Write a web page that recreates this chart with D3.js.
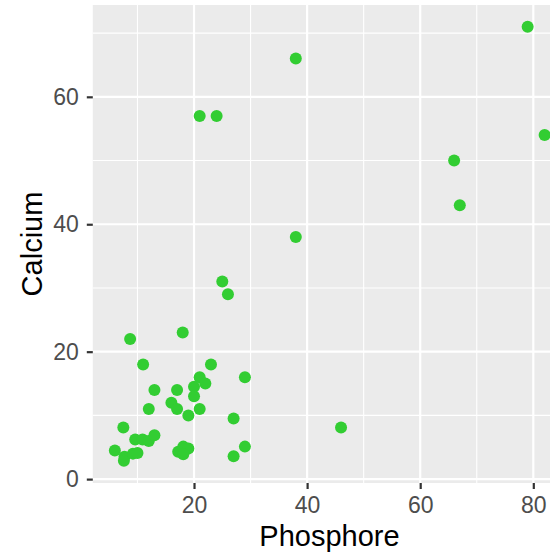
<!DOCTYPE html>
<html>
<head>
<meta charset="utf-8">
<script src="https://cdn.jsdelivr.net/npm/d3@7"></script>
<style>
  html, body { margin: 0; padding: 0; background: #fff; }
  svg { display: block; font-family: "Liberation Sans", Arial, sans-serif; }
</style>
</head>
<body>
<svg id="chart" width="550" height="554"></svg>
<script>
// Data (Phosphore vs Calcium)
const phosphore = [79, 82, 66, 67, 46, 38, 21, 24, 38, 25, 26, 8.7, 18, 11, 23, 29, 21, 22, 20, 13, 17, 20, 16, 17, 12, 21, 19, 27, 7.5, 9.6, 10.9, 12, 13, 29, 6, 7.7, 7.6, 9.2, 10, 27, 17.2, 18.1, 19, 18.1];
const calcium   = [71, 54, 50, 43, 8.1, 66, 57, 57, 38, 31, 29, 22, 23, 18, 18, 16, 16, 15, 14.5, 14, 14, 13, 12, 11, 11, 11, 10, 9.5, 8.1, 6.2, 6.2, 6, 6.9, 5.1, 4.5, 3.5, 2.9, 4.0, 4.1, 3.6, 4.3, 5.1, 4.8, 3.9];
const xTicks = [20, 40, 60, 80];
const xMinor = [10, 30, 50, 70];
const yTicks = [0, 20, 40, 60];
const yMinor = [10, 30, 50, 70];
const xTitle = "Phosphore";
const yTitle = "Calcium";

const svg = d3.select("#chart");
const panel = { left: 92.8, right: 566.1, top: 5, bottom: 483 };

const x = d3.scaleLinear().domain([2.1, 85.8]).range([panel.left, panel.right]);
const y = d3.scaleLinear().domain([-0.61, 74.41]).range([panel.bottom, panel.top]);

// panel background
svg.append("rect")
  .attr("x", panel.left).attr("y", panel.top)
  .attr("width", panel.right - panel.left).attr("height", panel.bottom - panel.top)
  .attr("fill", "#EBEBEB");

const grid = svg.append("g");
// minor grid
grid.selectAll(".xmin").data(xMinor).join("line")
  .attr("x1", d => x(d)).attr("x2", d => x(d))
  .attr("y1", panel.top).attr("y2", panel.bottom)
  .attr("stroke", "#fff").attr("stroke-width", 1.1);
grid.selectAll(".ymin").data(yMinor).join("line")
  .attr("y1", d => y(d)).attr("y2", d => y(d))
  .attr("x1", panel.left).attr("x2", panel.right)
  .attr("stroke", "#fff").attr("stroke-width", 1.1);
// major grid
grid.selectAll(".xmaj").data(xTicks).join("line")
  .attr("x1", d => x(d)).attr("x2", d => x(d))
  .attr("y1", panel.top).attr("y2", panel.bottom)
  .attr("stroke", "#fff").attr("stroke-width", 2.2);
grid.selectAll(".ymaj").data(yTicks).join("line")
  .attr("y1", d => y(d)).attr("y2", d => y(d))
  .attr("x1", panel.left).attr("x2", panel.right)
  .attr("stroke", "#fff").attr("stroke-width", 2.2);

// points
const data = phosphore.map((p, i) => ({ p, c: calcium[i] }));
svg.append("g").selectAll("circle").data(data).join("circle")
  .attr("cx", d => x(d.p)).attr("cy", d => y(d.c))
  .attr("r", 6).attr("fill", "#32CD32");

// axes
const xAxis = svg.append("g")
  .attr("transform", `translate(0,${panel.bottom})`)
  .call(d3.axisBottom(x).tickValues(xTicks).tickSize(6).tickPadding(8).tickFormat(d3.format("d")));
const yAxis = svg.append("g")
  .attr("transform", `translate(${panel.left},0)`)
  .call(d3.axisLeft(y).tickValues(yTicks).tickSize(6).tickPadding(8).tickFormat(d3.format("d")));
[xAxis, yAxis].forEach(a => {
  a.select(".domain").remove();
  a.selectAll(".tick line").attr("stroke", "#333333").attr("stroke-width", 2.2);
  a.selectAll(".tick text").attr("fill", "#4D4D4D")
    .style("font-size", "23px").style("font-family", "Liberation Sans, Arial, sans-serif");
});

// titles
svg.append("text")
  .attr("x", (panel.left + panel.right) / 2).attr("y", 546)
  .attr("text-anchor", "middle").attr("fill", "#000")
  .style("font-size", "29px").text(xTitle);
svg.append("text")
  .attr("transform", `translate(42,${(panel.top + panel.bottom) / 2}) rotate(-90)`)
  .attr("text-anchor", "middle").attr("fill", "#000")
  .style("font-size", "29px").text(yTitle);
</script>
</body>
</html>
